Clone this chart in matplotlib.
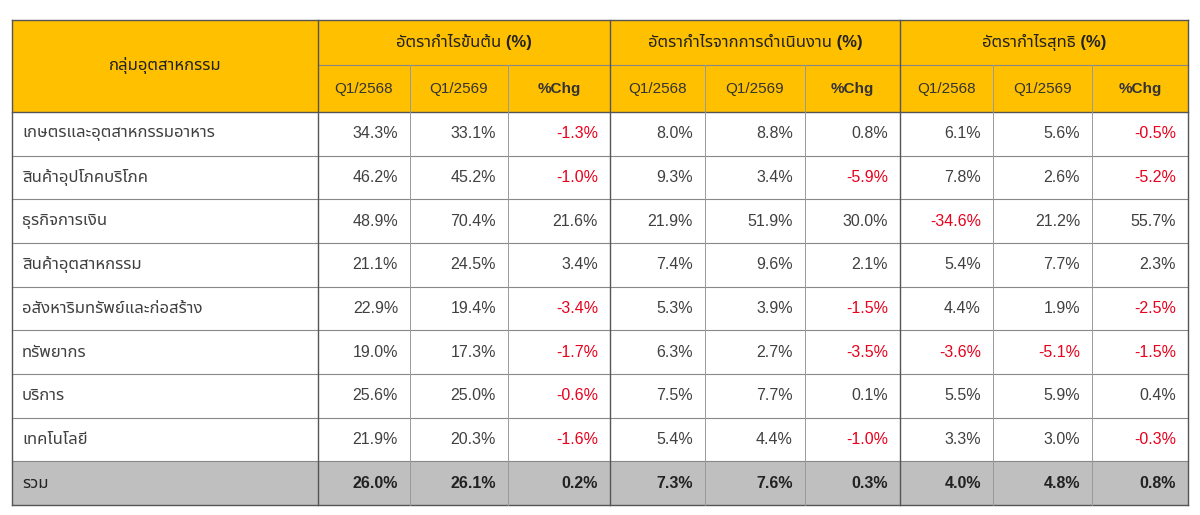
import matplotlib
matplotlib.use("Agg")
import matplotlib.pyplot as plt
from matplotlib.patches import Rectangle

plt.rcParams['font.family'] = ['Liberation Sans', 'Noto Sans Thai', 'DejaVu Sans']

industries = ["เกษตรและอุตสาหกรรมอาหาร", "สินค้าอุปโภคบริโภค", "ธุรกิจการเงิน", "สินค้าอุตสาหกรรม",
              "อสังหาริมทรัพย์และก่อสร้าง", "ทรัพยากร", "บริการ", "เทคโนโลยี", "รวม"]
gross_2568 = [34.3, 46.2, 48.9, 21.1, 22.9, 19.0, 25.6, 21.9, 26.0]
gross_2569 = [33.1, 45.2, 70.4, 24.5, 19.4, 17.3, 25.0, 20.3, 26.1]
gross_chg = [-1.3, -1.0, 21.6, 3.4, -3.4, -1.7, -0.6, -1.6, 0.2]
op_2568 = [8.0, 9.3, 21.9, 7.4, 5.3, 6.3, 7.5, 5.4, 7.3]
op_2569 = [8.8, 3.4, 51.9, 9.6, 3.9, 2.7, 7.7, 4.4, 7.6]
op_chg = [0.8, -5.9, 30.0, 2.1, -1.5, -3.5, 0.1, -1.0, 0.3]
net_2568 = [6.1, 7.8, -34.6, 5.4, 4.4, -3.6, 5.5, 3.3, 4.0]
net_2569 = [5.6, 2.6, 21.2, 7.7, 1.9, -5.1, 5.9, 3.0, 4.8]
net_chg = [-0.5, -5.2, 55.7, 2.3, -2.5, -1.5, 0.4, -0.3, 0.8]
groups = ["อัตรากำไรขั้นต้น (%)", "อัตรากำไรจากการดำเนินงาน (%)", "อัตรากำไรสุทธิ (%)"]
subheads = ["Q1/2568", "Q1/2569", "%Chg"]
first_head = "กลุ่มอุตสาหกรรม"

W, H = 1200, 515
fig = plt.figure(figsize=(W/100, H/100), dpi=100)
ax = fig.add_axes([0, 0, 1, 1])
ax.set_xlim(0, W); ax.set_ylim(H, 0); ax.axis('off')

xs = [12, 318, 410, 508, 610, 705, 805, 900, 993, 1092, 1188]
y0, y1, y2 = 20, 65, 112
rh = (505 - 112) / 9
gold = '#FFC000'; gray = '#BFBFBF'; red = '#E8001C'; txt = '#404040'

ax.add_patch(Rectangle((xs[0], y0), xs[-1]-xs[0], y2-y0, fc=gold, ec='none'))
ax.add_patch(Rectangle((xs[0], y2+8*rh), xs[-1]-xs[0], rh, fc=gray, ec='none'))

cols = [(gross_2568, gross_2569, gross_chg), (op_2568, op_2569, op_chg), (net_2568, net_2569, net_chg)]
ax.text((xs[0]+xs[1])/2, (y0+y2)/2, first_head, ha='center', va='center', fontsize=12, fontweight='bold', color='#222')
for g in range(3):
    ax.text((xs[1+3*g]+xs[4+3*g])/2, (y0+y1)/2, groups[g], ha='center', va='center', fontsize=12, fontweight='bold', color='#222')
    for s in range(3):
        ax.text((xs[1+3*g+s]+xs[2+3*g+s])/2, (y1+y2)/2, subheads[s], ha='center', va='center', fontsize=11,
                fontweight='bold' if s == 2 else 'normal', color='#333')

for i, name in enumerate(industries):
    yc = y2 + (i+0.5)*rh
    bold = i == 8
    fw = 'bold' if bold else 'normal'
    ax.text(xs[0]+10, yc, name, ha='left', va='center', fontsize=12, fontweight=fw, color='#222' if bold else txt)
    for g in range(3):
        for s in range(3):
            v = cols[g][s][i]
            c = red if v < 0 else ('#222' if bold else txt)
            ax.text(xs[2+3*g+s]-12, yc, f"{v:.1f}%", ha='right', va='center', fontsize=11.5, fontweight=fw, color=c)

lc = '#555'
ax.plot([xs[0], xs[-1]], [y0, y0], color=lc, lw=1)
ax.plot([xs[1], xs[-1]], [y1, y1], color='#888', lw=0.8)
for i in range(10):
    y = y2 + i*rh
    ax.plot([xs[0], xs[-1]], [y, y], color='#888' if 0 < i < 9 else lc, lw=0.8 if 0 < i < 9 else 1)
for j, x in enumerate(xs):
    if j in (0, 1, 4, 7, 10):
        ax.plot([x, x], [y0, y2+9*rh], color=lc, lw=1)
    else:
        ax.plot([x, x], [y1, y2+9*rh], color='#999', lw=0.7)

fig.savefig("out.png", dpi=100)
